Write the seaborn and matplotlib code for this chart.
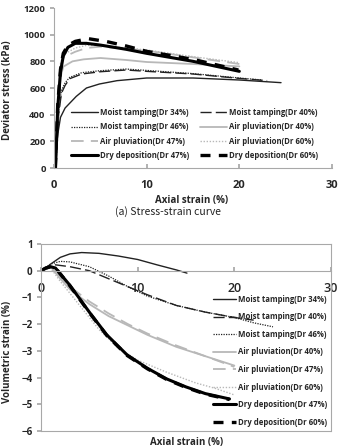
import numpy as np
import pandas as pd
import matplotlib
matplotlib.use("Agg")
import matplotlib.pyplot as plt
from matplotlib.font_manager import FontProperties
import seaborn as sns

sns.set_theme(style="white")
FAM = ['Open Sans', 'DejaVu Sans']
plt.rcParams['font.family'] = FAM

labels = ["Moist tamping(Dr 34%)", "Moist tamping(Dr 40%)", "Moist tamping(Dr 46%)",
          "Air pluviation(Dr 40%)", "Air pluviation(Dr 47%)", "Air pluviation(Dr 60%)",
          "Dry deposition(Dr 47%)", "Dry deposition(Dr 60%)"]

# ---- (a) stress-strain: axial strain (%) / deviator stress (kPa)
ss_mt34_x = [0.2, 0.4, 0.7, 1.2, 2.4, 3.5, 4.9, 6.8, 10, 15, 20, 24.5]
ss_mt34_y = [0, 250, 380, 450, 537, 600, 630, 655, 675, 675, 660, 640]
ss_mt40_x = [0.2, 0.5, 0.8, 1.2, 1.7, 3, 5, 7.8, 10, 15, 20, 23]
ss_mt40_y = [0, 400, 560, 620, 670, 705, 722, 735, 725, 705, 672, 655]
ss_mt46_x = [0.2, 0.5, 0.8, 1.2, 1.7, 3, 5, 7.8, 10, 15, 20, 22.5]
ss_mt46_y = [0, 420, 580, 640, 680, 715, 730, 742, 732, 708, 675, 660]
ss_ap40_x = [0.2, 0.4, 0.7, 1.0, 2, 3.2, 5, 7.8, 10, 15, 20]
ss_ap40_y = [0, 400, 680, 760, 800, 815, 825, 810, 795, 780, 762]
ss_ap47_x = [0.2, 0.4, 0.7, 1.0, 2.3, 3.5, 5, 7.8, 10, 15, 20]
ss_ap47_y = [0, 450, 760, 830, 872, 900, 910, 895, 880, 830, 780]
ss_ap60_x = [0.2, 0.4, 0.7, 1.0, 2.3, 3.5, 5, 7.8, 10, 15, 20]
ss_ap60_y = [0, 460, 780, 850, 900, 920, 918, 900, 885, 835, 790]
ss_dd47_x = [0.15, 0.4, 0.7, 1.0, 1.5, 2.3, 3.5, 5, 7.8, 10, 15, 20]
ss_dd47_y = [0, 450, 720, 840, 905, 935, 935, 922, 890, 860, 800, 725]
ss_dd60_x = [0.15, 0.4, 0.7, 1.0, 1.5, 2.3, 3.7, 5.7, 7.8, 10, 15, 19.9]
ss_dd60_y = [0, 470, 740, 860, 920, 950, 970, 948, 915, 875, 815, 735]

# ---- (b) volumetric strain (%) vs axial strain (%)
vs_mt34_x = [0, 0.5, 1, 2, 3, 4.2, 6, 8, 10, 12, 14, 15.1]
vs_mt34_y = [0, 0.1, 0.25, 0.5, 0.63, 0.68, 0.65, 0.55, 0.42, 0.22, 0.03, -0.09]
vs_mt40_x = [0, 1, 1.5, 3, 5, 7, 9, 11, 14, 17, 20, 22]
vs_mt40_y = [0, 0.2, 0.22, 0.15, 0, -0.3, -0.6, -0.9, -1.3, -1.55, -1.75, -1.85]
vs_mt46_x = [0, 1, 2, 3, 5, 7, 9, 11, 14, 17, 20, 22, 24]
vs_mt46_y = [0, 0.25, 0.35, 0.33, 0.15, -0.2, -0.6, -0.95, -1.3, -1.55, -1.75, -1.95, -2.1]
vs_ap40_x = [0, 1, 2, 3, 5, 7, 9, 11, 14, 17, 20]
vs_ap40_y = [0, 0.15, -0.3, -0.7, -1.25, -1.7, -2.05, -2.4, -2.85, -3.2, -3.55]
vs_ap47_x = [0, 1, 2, 3, 5, 7, 9, 11, 14, 17, 20]
vs_ap47_y = [0, 0.15, -0.25, -0.6, -1.15, -1.6, -2.0, -2.35, -2.8, -3.2, -3.6]
vs_ap60_x = [0, 1, 2, 4, 6, 8, 10, 13, 16, 18, 20]
vs_ap60_y = [0, 0.1, -0.4, -1.3, -2.2, -2.9, -3.35, -3.8, -4.2, -4.4, -4.65]
vs_dd47_x = [0, 0.5, 1, 1.5, 3, 4, 5, 6.8, 8.9, 11, 13, 15, 17, 19.5]
vs_dd47_y = [0, 0.1, 0.15, 0.1, -0.55, -1.05, -1.55, -2.4, -3.15, -3.65, -4.05, -4.35, -4.6, -4.8]
vs_dd60_x = [0, 0.5, 1, 1.5, 3, 4, 5, 6.8, 8.9, 11, 13, 15, 17, 19.5]
vs_dd60_y = [0, 0.1, 0.15, 0.1, -0.57, -1.07, -1.57, -2.42, -3.17, -3.67, -4.07, -4.37, -4.62, -4.82]

ss_x = [ss_mt34_x, ss_mt40_x, ss_mt46_x, ss_ap40_x, ss_ap47_x, ss_ap60_x, ss_dd47_x, ss_dd60_x]
ss_y = [ss_mt34_y, ss_mt40_y, ss_mt46_y, ss_ap40_y, ss_ap47_y, ss_ap60_y, ss_dd47_y, ss_dd60_y]
vs_x = [vs_mt34_x, vs_mt40_x, vs_mt46_x, vs_ap40_x, vs_ap47_x, vs_ap60_x, vs_dd47_x, vs_dd60_x]
vs_y = [vs_mt34_y, vs_mt40_y, vs_mt46_y, vs_ap40_y, vs_ap47_y, vs_ap60_y, vs_dd47_y, vs_dd60_y]

dark = "#222222"
light = "#b8b8b8"
styles = [
    dict(color=dark, lw=1.0, ls="-"),
    dict(color=dark, lw=1.0, ls=(0, (8, 3))),
    dict(color=dark, lw=0.9, ls=(0, (1, 1))),
    dict(color=light, lw=1.3, ls="-"),
    dict(color=light, lw=1.3, ls=(0, (7, 4))),
    dict(color=light, lw=1.0, ls=(0, (1, 1.2))),
    dict(color="black", lw=2.2, ls="-"),
    dict(color="black", lw=2.4, ls=(0, (3, 2.5))),
]

spine_c = "#a8a8a8"

fig = plt.figure(figsize=(3.4, 4.47), dpi=100)

W, H = 340.0, 447.0
def rect(l, t, r, b):
    return [l / W, 1 - b / H, (r - l) / W, (b - t) / H]

def bold(size):
    return FontProperties(family=FAM, weight='bold', size=size)

# ---------- top axes
ax1 = fig.add_axes(rect(54, 8, 332, 168))
for lab, xs, ys, st in zip(labels, ss_x, ss_y, styles):
    df = pd.DataFrame({"x": xs, "y": ys})
    sns.lineplot(data=df, x="x", y="y", ax=ax1, estimator=None, sort=False,
                 color=st["color"], linewidth=st["lw"], linestyle=st["ls"], label=lab)
ax1.set_xlim(0, 30)
ax1.set_ylim(0, 1200)
ax1.set_xticks([0, 10, 20, 30])
ax1.set_yticks(range(0, 1201, 200))
ax1.set_xlabel("")
ax1.set_ylabel("")
for s in ax1.spines.values():
    s.set_color(spine_c)
    s.set_linewidth(0.8)
ax1.spines['top'].set_visible(False)
ax1.spines['right'].set_visible(False)
ax1.tick_params(axis='x', direction='in', length=3, color=spine_c, pad=9, bottom=True)
ax1.tick_params(axis='y', direction='out', length=3, color=spine_c, pad=3, left=True)
for t in ax1.get_xticklabels():
    t.set_fontproperties(bold(8))
for t in ax1.get_yticklabels():
    t.set_fontproperties(bold(6.8))

h, l = ax1.get_legend_handles_labels()
order = [0, 2, 4, 6, 1, 3, 5, 7]
leg1 = ax1.legend([h[i] for i in order], [l[i] for i in order],
                  loc="lower left", bbox_to_anchor=(0.045, 0.02), ncol=2, frameon=False,
                  prop=bold(5.6),
                  handlelength=3.4, handletextpad=0.25, columnspacing=1.5,
                  labelspacing=0.7, borderaxespad=0.2)

fig.text(192 / W, 1 - 200 / H, "Axial strain (%)", ha="center", va="center",
         fontproperties=bold(7))
fig.text(8 / W, 1 - 90 / H, "Deviator stress (kPa)", ha="center", va="center",
         rotation=90, fontproperties=bold(7))
fig.text(168 / W, 1 - 212 / H, "(a) Stress-strain curve", ha="center", va="center",
         fontsize=7.5, family=['Noto Sans CJK KR', 'DejaVu Sans'], color="#222222")

# ---------- bottom axes
ax2 = fig.add_axes(rect(41, 244, 331, 431))
for lab, xs, ys, st in zip(labels, vs_x, vs_y, styles):
    df = pd.DataFrame({"x": xs, "y": ys})
    sns.lineplot(data=df, x="x", y="y", ax=ax2, estimator=None, sort=False,
                 color=st["color"], linewidth=st["lw"], linestyle=st["ls"], label=lab)
ax2.set_xlim(0, 30)
ax2.set_ylim(-6, 1)
ax2.set_xticks([0, 10, 20, 30])
ax2.set_yticks(range(-6, 2))
ax2.set_xlabel("")
ax2.set_ylabel("")
for s in ax2.spines.values():
    s.set_color(spine_c)
    s.set_linewidth(0.8)
ax2.spines['bottom'].set_position(('data', 0))
ax2.axhline(-6, color=spine_c, lw=0.8, clip_on=False, zorder=0)
ax2.tick_params(axis='x', direction='in', length=3, color=spine_c, pad=8, bottom=True)
ax2.tick_params(axis='y', direction='out', length=3, color=spine_c, pad=3, left=True)
for t in ax2.get_xticklabels():
    t.set_fontproperties(FontProperties(family=FAM, weight='semibold', size=9))
for t in ax2.get_yticklabels():
    t.set_fontproperties(bold(7))
leg2 = ax2.legend(loc="lower right", bbox_to_anchor=(1.0, 0.0), ncol=1, frameon=False,
                  prop=bold(5.6),
                  handlelength=3.0, handletextpad=0.15, labelspacing=1.1,
                  borderaxespad=0.15)

fig.text(187 / W, 1 - 443 / H, "Axial strain (%)", ha="center", va="center",
         fontproperties=bold(7))
fig.text(8 / W, 1 - 352 / H, "Volumetric strain (%)", ha="center", va="center",
         rotation=90, fontproperties=bold(7))

fig.savefig("out.png", dpi=100)
